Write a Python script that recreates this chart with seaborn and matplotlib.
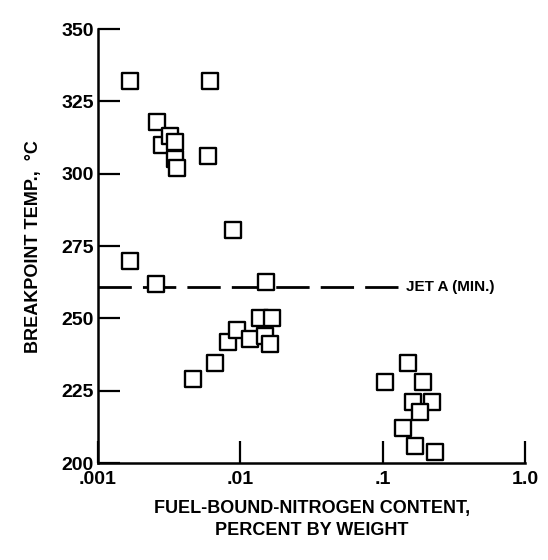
import numpy as np
import pandas as pd
import seaborn as sns
import matplotlib.pyplot as plt
from matplotlib.ticker import FixedLocator, NullLocator

# nitrogen content (percent by weight) and breakpoint temperature (deg C)
nitrogen = [
    0.00168, 0.0061,
    0.00259, 0.0028, 0.0032, 0.0035, 0.0035, 0.0036, 0.0059,
    0.00885, 0.00168, 0.00255, 0.0152,
    0.00465, 0.0066, 0.0082, 0.0095, 0.0117, 0.0137, 0.0167, 0.0149, 0.0161,
    0.103, 0.150, 0.191, 0.163, 0.221, 0.182, 0.138, 0.168, 0.232,
]
breakpoint_temp = [
    332, 332,
    318, 310, 313, 311, 305, 302, 306,
    280.5, 270, 262, 262.5,
    229, 234.5, 242, 246, 243, 250, 250, 244, 241,
    228, 234.5, 228, 221, 221, 217.5, 212, 206, 204,
]
jet_a_min = 261
x_ticks = [0.001, 0.01, 0.1, 1.0]
x_ticklabels = [".001", ".01", ".1", "1.0"]
y_ticks = [200, 225, 250, 275, 300, 325, 350]

df = pd.DataFrame({"nitrogen": nitrogen, "temp": breakpoint_temp})

sns.set_style("ticks")
plt.rcParams["font.family"] = ["Liberation Sans", "DejaVu Sans"]
plt.rcParams["font.weight"] = "bold"
plt.rcParams["axes.labelweight"] = "bold"
plt.rcParams["text.color"] = "black"
plt.rcParams["axes.labelcolor"] = "black"
plt.rcParams["xtick.color"] = "black"
plt.rcParams["ytick.color"] = "black"
plt.rcParams["axes.edgecolor"] = "black"

fig = plt.figure(figsize=(5.48, 5.60), dpi=100)
ax = fig.add_axes([0.1788, 0.173, 0.7795, 0.775])

ax.plot([0.001, 0.128], [jet_a_min, jet_a_min], color="black", lw=2,
        dashes=(12, 4), zorder=1)
ax.text(0.145, jet_a_min, "JET A (MIN.)", fontsize=11, va="center", ha="left")

sns.scatterplot(data=df, x="nitrogen", y="temp", marker="s", s=140,
                facecolor="white", edgecolor="black", linewidth=1.7,
                ax=ax, zorder=3)

ax.set_xscale("log")
ax.set_xlim(0.001, 1.0)
ax.set_ylim(200, 350)
ax.xaxis.set_major_locator(FixedLocator(x_ticks))
ax.xaxis.set_minor_locator(NullLocator())
ax.set_xticklabels(x_ticklabels)
ax.set_yticks(y_ticks)
ax.tick_params(direction="in", length=16, width=1.6, labelsize=14, pad=3)
ax.tick_params(axis="x", pad=6)

ax.set_xlabel("FUEL-BOUND-NITROGEN CONTENT,\nPERCENT BY WEIGHT", fontsize=13,
              labelpad=8, linespacing=1.4)
ax.set_ylabel("BREAKPOINT TEMP.,  \u00b0C", fontsize=13, labelpad=14)

sns.despine(ax=ax)
for s in ["left", "bottom"]:
    ax.spines[s].set_linewidth(1.8)

fig.savefig("out.png", dpi=100)
